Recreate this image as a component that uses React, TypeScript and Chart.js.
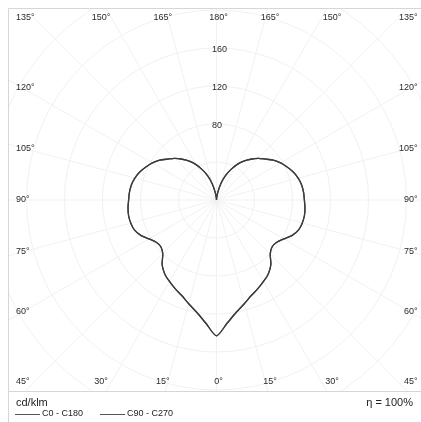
import React, { useEffect, useRef } from "react";
import { Chart, registerables } from "chart.js";

Chart.register(...registerables);

// Gamma angles (0° = straight down, 180° = straight up)
const angles = [0, 5, 10, 15, 20, 25, 30, 35, 40, 45, 50, 55, 60, 65, 70, 75, 80, 85, 90, 95, 100, 105, 110, 115, 120, 125, 130, 135, 140, 145, 150, 155, 160, 165, 170, 175, 180];
// Luminous intensity, cd/klm
const c0c180 = [143, 130, 120, 113, 107, 103, 99, 95, 89, 80, 76.5, 77.5, 82, 88, 92, 93.5, 94, 93.5, 92.5, 92, 91, 89, 86, 82, 78, 73, 67, 62, 56, 50, 43, 35, 27, 18, 9, 3, 0];
const c90c270 = [143, 130, 120, 113, 107, 103, 99, 95, 89, 80, 76.5, 77.5, 82, 88, 92, 93.5, 94, 93.5, 92.5, 92, 91, 89, 86, 82, 78, 73, 67, 62, 56, 50, 43, 35, 27, 18, 9, 3, 0];
const seriesLabels = ["C0 - C180", "C90 - C270"];
const angleTicks = [0, 15, 30, 45, 60, 75, 90, 105, 120, 135, 150, 165, 180];
const radialGrid = [40, 80, 120, 160, 200, 240];
const radialTickLabels = [80, 120, 160];
const unitLabel = "cd/klm";
const efficiencyLabel = "η = 100%";

const W = 413;
const H = 414;
const CX = 208.5;
const CY = 192;
const PX_PER_UNIT = 0.95;
const SEP_Y = 383.5;
const FONT = '"Liberation Sans", Arial, sans-serif';

function toPoints(vals: number[]) {
  const pts: { x: number; y: number }[] = [];
  for (let i = angles.length - 1; i >= 0; i--) {
    const a = (angles[i] * Math.PI) / 180;
    pts.push({ x: -vals[i] * Math.sin(a), y: -vals[i] * Math.cos(a) });
  }
  for (let i = 1; i < angles.length; i++) {
    const a = (angles[i] * Math.PI) / 180;
    pts.push({ x: vals[i] * Math.sin(a), y: -vals[i] * Math.cos(a) });
  }
  return pts;
}

const polarPlugin = {
  id: "polarGrid",
  beforeDatasetsDraw(chart: any) {
    const ctx = chart.ctx;
    const xs = chart.scales.x;
    const ys = chart.scales.y;
    const cx = xs.getPixelForValue(0);
    const cy = ys.getPixelForValue(0);
    const unit = xs.getPixelForValue(1) - cx;
    ctx.save();
    ctx.fillStyle = "#ffffff";
    ctx.fillRect(0, 0, W, H);
    ctx.beginPath();
    ctx.rect(1, 1, W - 1, SEP_Y - 1);
    ctx.clip();
    ctx.strokeStyle = "#f1f1f1";
    ctx.lineWidth = 1;
    radialGrid.forEach((r) => {
      ctx.beginPath();
      ctx.arc(cx, cy, r * unit, 0, Math.PI * 2);
      ctx.stroke();
    });
    for (let a = 0; a < 360; a += 15) {
      const rad = (a * Math.PI) / 180;
      ctx.beginPath();
      ctx.moveTo(cx, cy);
      ctx.lineTo(cx + 600 * Math.sin(rad), cy + 600 * Math.cos(rad));
      ctx.stroke();
    }
    ctx.restore();
  },
  afterDraw(chart: any) {
    const ctx = chart.ctx;
    const xs = chart.scales.x;
    const ys = chart.scales.y;
    const cx = xs.getPixelForValue(0);
    const cy = ys.getPixelForValue(0);
    ctx.save();
    ctx.strokeStyle = "#d6d6d6";
    ctx.lineWidth = 1;
    ctx.beginPath();
    ctx.moveTo(0.5, H);
    ctx.lineTo(0.5, 0.5);
    ctx.lineTo(W, 0.5);
    ctx.moveTo(0.5, SEP_Y);
    ctx.lineTo(W, SEP_Y);
    ctx.stroke();

    ctx.fillStyle = "#2a2a2a";
    ctx.font = `9px ${FONT}`;
    ctx.textBaseline = "middle";
    const topY = 10;
    const botY = 373.5;
    const leftX = 8;
    const rightX = 409.5;
    angleTicks.forEach((a) => {
      const sides = a === 0 || a === 180 ? [0] : [-1, 1];
      sides.forEach((s) => {
        const txt = `${a}°`;
        let x = 0;
        let y = 0;
        let align: CanvasTextAlign = "center";
        if (a < 45 || a > 135) {
          const t = Math.tan(((a < 45 ? a : 180 - a) * Math.PI) / 180);
          x = cx + s * 200 * t + (s === 0 ? 2 : 0);
          y = a < 45 ? botY : topY;
        } else if (a === 45 || a === 135) {
          y = a === 45 ? botY : topY;
          x = s < 0 ? leftX : rightX;
          align = s < 0 ? "left" : "right";
        } else {
          x = s < 0 ? leftX : rightX;
          align = s < 0 ? "left" : "right";
          y = cy + 194 * Math.tan(((90 - a) * Math.PI) / 180);
        }
        ctx.textAlign = align;
        ctx.fillText(txt, x, y);
      });
    });

    ctx.textAlign = "left";
    radialTickLabels.forEach((r) => {
      ctx.fillText(String(r), cx - 4.5, ys.getPixelForValue(r) + 2);
    });

    ctx.font = `11px ${FONT}`;
    ctx.fillStyle = "#222";
    ctx.textAlign = "left";
    ctx.fillText(unitLabel, 8, 395);
    ctx.textAlign = "right";
    ctx.fillText(efficiencyLabel, 405, 395);

    ctx.font = `9px ${FONT}`;
    ctx.textAlign = "left";
    const legendX = [7, 92];
    chart.data.datasets.forEach((ds: any, i: number) => {
      const x0 = legendX[i];
      ctx.strokeStyle = "#555";
      ctx.lineWidth = 1;
      ctx.beginPath();
      ctx.moveTo(x0, 406.5);
      ctx.lineTo(x0 + 25, 406.5);
      ctx.stroke();
      ctx.fillStyle = "#222";
      ctx.fillText(ds.label, x0 + 27, 406);
    });
    ctx.restore();
  },
};

export default function App() {
  const ref = useRef<HTMLCanvasElement | null>(null);
  useEffect(() => {
    if (!ref.current) return;
    const chart = new Chart(ref.current, {
      type: "scatter",
      data: {
        datasets: [
          {
            label: seriesLabels[0],
            data: toPoints(c0c180),
            showLine: true,
            borderColor: "#3c3c3c",
            borderWidth: 1.3,
            pointRadius: 0,
            tension: 0.25,
          },
          {
            label: seriesLabels[1],
            data: toPoints(c90c270),
            showLine: true,
            borderColor: "#3c3c3c",
            borderWidth: 1.3,
            pointRadius: 0,
            tension: 0.25,
          },
        ],
      },
      options: {
        animation: false,
        responsive: false,
        layout: { padding: 0 },
        plugins: { legend: { display: false }, tooltip: { enabled: false }, title: { display: false } },
        scales: {
          x: { type: "linear", display: false, min: -CX / PX_PER_UNIT, max: (W - CX) / PX_PER_UNIT },
          y: { type: "linear", display: false, min: -(H - CY) / PX_PER_UNIT, max: CY / PX_PER_UNIT },
        },
      },
      plugins: [polarPlugin],
    });
    return () => chart.destroy();
  }, []);
  return (
    <div style={{ position: "absolute", left: 8, top: 8, width: W, height: H }}>
      <canvas ref={ref} width={W} height={H} style={{ display: "block", width: W, height: H }} />
    </div>
  );
}
